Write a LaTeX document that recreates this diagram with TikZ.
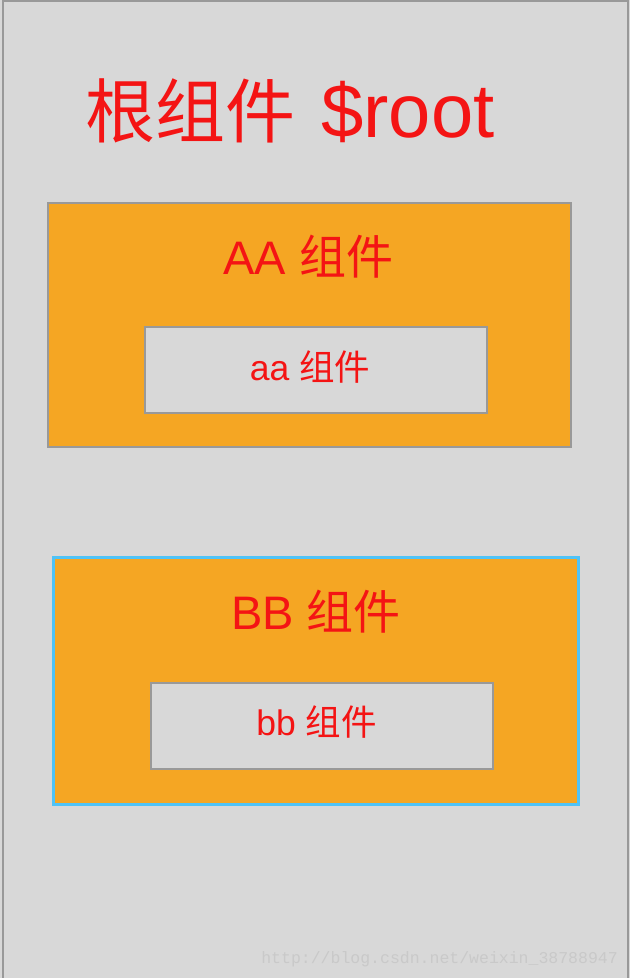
\documentclass[tikz,border=0pt]{standalone}
\usepackage{fontspec}
\setmainfont{Liberation Sans}
\setmonofont{Liberation Mono}
\newfontfamily\cjk{Noto Sans CJK SC}
\definecolor{bggray}{HTML}{D8D8D8}
\definecolor{linegray}{HTML}{999999}
\definecolor{compfill}{HTML}{F5A623}
\definecolor{comptext}{HTML}{F41414}
\definecolor{activeblue}{HTML}{4FC3F7}
\definecolor{markgray}{HTML}{C9C9C9}
\tikzset{
  compbox/.style={draw=linegray, line width=2pt, fill=compfill, inner sep=0pt},
  childbox/.style={draw=linegray, line width=2pt, fill=bggray, inner sep=0pt,
    minimum width=342pt, minimum height=86pt},
  complabel/.style={text=comptext, inner sep=0pt, anchor=base},
}

\begin{document}
\begin{tikzpicture}[x=1pt,y=-1pt]
        % Page and root frame
        \useasboundingbox[fill=bggray] (0,0) rectangle (630,978);
        \draw[linegray, line width=2pt] (3,990) -- (3,1) -- (627.5,1) -- (627.5,990);
        \node[complabel, anchor=base west] (roottitle) at (85,137)
            {\fontsize{70}{84}\selectfont{\cjk 根组件}\hspace{26pt}{\fontsize{76}{84}\selectfont\$root}};
        % AA component
        \node[compbox, minimum width=523pt, minimum height=244pt] (boxAA) at (309.5,325) {};
        \node[complabel] (labelAA) at (308.5,274) {\fontsize{47}{55}\selectfont AA {\cjk 组件}};
        \node[childbox] (boxaa) at (316,370) {};
        \node[complabel] (labelaa) at (310,380) {\fontsize{35.5}{42}\selectfont aa {\cjk 组件}};
        % BB component
        \node[compbox, draw=activeblue, line width=3.5pt,
            minimum width=525pt, minimum height=247pt] (boxBB) at (316,681) {};
        \node[complabel] (labelBB) at (316,629) {\fontsize{47}{55}\selectfont BB {\cjk 组件}};
        \node[childbox] (boxbb) at (322,726) {};
        \node[complabel] (labelbb) at (316.5,735) {\fontsize{35.5}{42}\selectfont bb {\cjk 组件}};
        % Watermark
        \node[text=markgray, inner sep=0pt, anchor=base east] (watermark) at (618,963)
            {\fontsize{16.5}{20}\selectfont\ttfamily http://blog.csdn.net/weixin\_38788947};
    \end{tikzpicture}
\end{document}
